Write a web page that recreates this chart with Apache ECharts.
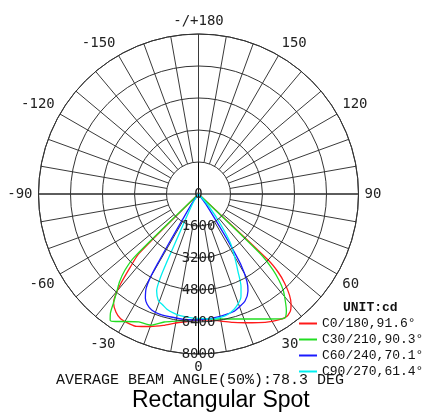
<!DOCTYPE html>
<html>
<head>
<meta charset="utf-8">
<script src="https://cdn.jsdelivr.net/npm/echarts@6/dist/echarts.min.js"></script>
<style>
html, body { margin: 0; padding: 0; background: #fff; }
#chart { width: 425px; height: 412px; }
</style>
</head>
<body>
<div id="chart"></div>
<script>
// luminous intensity (cd) per C-plane, gamma angle in degrees, negative = left half
var c0Angles  = [-46, -45, -43, -41, -39.5, -38, -35, -32, -28, -25, -20, -15, -10, -5, 0, 5, 10, 15, 20, 25, 30, 35, 38, 40, 42, 44, 45.5, 46.5, 47];
var c0Values  = [0, 4200, 5000, 5900, 6500, 6900, 7200, 7350, 7350, 7300, 7050, 6800, 6550, 6400, 6300, 6330, 6450, 6650, 6850, 7100, 7350, 7550, 7450, 7200, 6800, 6200, 5600, 4800, 0];
var c30Angles = [-47, -45.5, -44, -42, -40, -38, -36.5, -35, -33, -30, -25, -20, -15, -10, -5, 0, 5, 10, 15, 20, 25, 30, 33, 35, 37, 39, 41.4, 43, 44.5, 46, 47];
var c30Values = [0, 4500, 5300, 5900, 6350, 6900, 7400, 7700, 7600, 7360, 7060, 6980, 6625, 6450, 6325, 6250, 6275, 6345, 6470, 6650, 6895, 7217, 7450, 7550, 7300, 6900, 6400, 5900, 5300, 4300, 0];
var c60Angles = [-45, -35, -32, -31, -30.5, -30, -29, -27, -25, -22, -18, -12, -6, 0, 5, 9, 13, 17, 20, 23.5, 27, 29, 31, 32, 33, 36, 45];
var c60Values = [0, 500, 1500, 2900, 3900, 4800, 5400, 5850, 6080, 6250, 6310, 6300, 6310, 6300, 6250, 6225, 6180, 6130, 6000, 5835, 5450, 5000, 4100, 3000, 1800, 600, 0];
var c90Angles = [-40, -32, -27, -25.5, -25, -24.5, -23.4, -20.6, -18, -15.5, -12, -8.6, -3, 0, 6, 12, 15, 18.4, 22.4, 24.6, 27, 30, 33, 36, 40, 50];
var c90Values = [0, 500, 1500, 2700, 3700, 4600, 5270, 5700, 5820, 5965, 6080, 6155, 6205, 6220, 6280, 6240, 6150, 5950, 5570, 5110, 4350, 3600, 2950, 1900, 800, 0];

var seriesNames  = ['C0/180,91.6°', 'C30/210,90.3°', 'C60/240,70.1°', 'C90/270,61.4°'];
var seriesColors = ['#ff1a1a', '#22dd22', '#1a1aff', '#00eeee'];
var radiusTicks  = [0, 1600, 3200, 4800, 6400, 8000];

function toPolar(angles, values) {
    return angles.map(function (a, i) {
        return [values[i], a < 0 ? a + 360 : a];
    });
}

function angleLabel(v) {
    if (v % 30 !== 0 || v === 360) return '';
    if (v === 180) return '-/+180';
    return v > 180 ? String(v - 360) : String(v);
}

var chart = echarts.init(document.getElementById('chart'), null, { renderer: 'canvas' });

var curves = [
    toPolar(c0Angles, c0Values),
    toPolar(c30Angles, c30Values),
    toPolar(c60Angles, c60Values),
    toPolar(c90Angles, c90Values)
];

var option = {
    animation: false,
    backgroundColor: '#fff',
    title: [
        {
            text: 'UNIT:cd', left: 343, top: 301, padding: 0,
            textStyle: { fontFamily: 'Liberation Mono', fontSize: 13, fontWeight: 'bold', color: '#111' }
        },
        {
            text: 'AVERAGE BEAM ANGLE(50%):78.3 DEG', left: 56, top: 373, padding: 0,
            textStyle: { fontFamily: 'Liberation Mono', fontSize: 15, fontWeight: 'normal', color: '#111' }
        },
        {
            text: 'Rectangular Spot', left: 132, top: 389, padding: 0,
            textStyle: { fontFamily: 'Liberation Sans', fontSize: 23, fontWeight: 'normal', color: '#000' }
        }
    ],
    legend: {
        data: seriesNames,
        orient: 'vertical',
        left: 299,
        top: 317,
        padding: 0,
        itemWidth: 18,
        itemHeight: 2,
        itemGap: 3,
        icon: 'rect',
        textStyle: { fontFamily: 'Liberation Mono', fontSize: 13, color: '#111' }
    },
    polar: [
        { center: [198.5, 194], radius: 160 },
        { center: [198.5, 194], radius: [32, 160] }
    ],
    angleAxis: [
        {
            polarIndex: 0, type: 'value', min: 0, max: 360, interval: 90,
            startAngle: 270, clockwise: false,
            axisLine: { show: true, lineStyle: { color: '#333', width: 1 } },
            axisTick: { show: false },
            axisLabel: { show: false },
            splitLine: { show: true, lineStyle: { color: '#000', width: 1 } }
        },
        {
            polarIndex: 1, type: 'value', min: 0, max: 360, interval: 10,
            startAngle: 270, clockwise: false,
            axisLine: { show: false },
            axisTick: { show: false },
            axisLabel: {
                show: true, margin: 6, formatter: angleLabel,
                fontFamily: 'DejaVu Sans Mono', fontSize: 14, color: '#222'
            },
            splitLine: { show: true, lineStyle: { color: '#3a3a3a', width: 1 } }
        }
    ],
    radiusAxis: [
        {
            polarIndex: 0, type: 'value', min: radiusTicks[0], max: radiusTicks[radiusTicks.length - 1],
            interval: radiusTicks[1] - radiusTicks[0],
            axisLine: { show: true, lineStyle: { color: '#000', width: 1 } },
            axisTick: { show: false },
            axisLabel: {
                show: true, margin: 0, align: 'center', verticalAlign: 'middle',
                padding: [0, 0, 8, 0],
                formatter: function (v) { return String(v); },
                fontFamily: 'DejaVu Sans Mono', fontSize: 14, color: '#222'
            },
            splitLine: { show: true, lineStyle: { color: '#333', width: 1 } },
            z: 5
        },
        {
            polarIndex: 1, type: 'value', min: 0, max: 1,
            axisLine: { show: false }, axisTick: { show: false },
            axisLabel: { show: false }, splitLine: { show: false }
        }
    ],
    series: curves.map(function (d, i) {
        return {
            name: seriesNames[i],
            type: 'line',
            coordinateSystem: 'polar',
            polarIndex: 0,
            data: d,
            symbol: 'none',
            smooth: 0.25,
            color: seriesColors[i],
            lineStyle: { width: 1.3, color: seriesColors[i] }
        };
    })
};

chart.setOption(option);
</script>
</body>
</html>
